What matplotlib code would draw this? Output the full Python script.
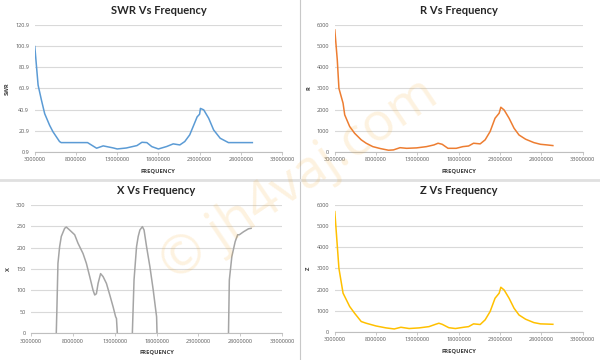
import matplotlib
matplotlib.use("Agg")
import matplotlib.pyplot as plt
from matplotlib.lines import Line2D
import numpy as np

plt.rcParams["font.family"] = ["Open Sans", "DejaVu Sans"]

# frequency sweep readings (Hz) and values
swr_freq = [3.0e6, 3.4e6, 3.8e6, 4.2e6, 4.8e6, 5.2e6, 6.0e6, 6.2e6, 7.5e6, 9.4e6,
            10.5e6, 11.3e6, 12.5e6, 13.0e6, 14.1e6, 15.4e6, 16.0e6, 16.6e6, 17.2e6,
            18.0e6, 19.0e6, 19.8e6, 20.6e6, 21.2e6, 21.8e6, 22.3e6, 22.7e6, 23.0e6,
            23.1e6, 23.5e6, 24.1e6, 24.7e6, 25.5e6, 26.5e6, 28.0e6, 29.4e6]
swr = [100.4, 64, 50, 37, 26, 20, 10.7, 9.7, 9.7, 9.7,
       4.4, 6.6, 4.7, 3.7, 4.6, 6.9, 10.0, 9.7, 5.9,
       3.7, 6.0, 8.5, 7.5, 10.7, 17, 26.4, 34, 36.5,
       42, 40.6, 32.7, 21.7, 13.8, 9.7, 9.7, 9.7]

r_freq = [3.0e6, 3.3e6, 3.5e6, 4.0e6, 4.2e6, 4.8e6, 5.4e6, 6.2e6, 6.8e6, 7.6e6,
          8.5e6, 9.5e6, 10.1e6, 10.9e6, 11.7e6, 12.9e6, 14.1e6, 15.0e6, 15.5e6,
          16.0e6, 16.7e6, 17.7e6, 18.5e6, 19.2e6, 19.8e6, 20.6e6, 21.2e6, 21.8e6,
          22.4e6, 22.9e6, 23.1e6, 23.5e6, 24.1e6, 24.7e6, 25.3e6, 26.1e6, 27.1e6,
          27.9e6, 28.7e6, 29.4e6]
r_vals = [5760, 4350, 3000, 2300, 1750, 1200, 880, 570, 410, 250,
          160, 80, 95, 200, 170, 190, 250, 330, 410,
          360, 170, 170, 250, 280, 410, 380, 570, 960,
          1590, 1830, 2110, 1980, 1590, 1120, 800, 600, 440,
          360, 330, 300]

x_freq = [6.0e6, 6.08e6, 6.2e6, 6.4e6, 6.6e6, 7.0e6, 7.2e6, 7.6e6, 8.2e6, 8.6e6,
          9.2e6, 9.6e6, 10.0e6, 10.4e6, 10.6e6, 10.8e6, 11.0e6, 11.3e6, 11.6e6,
          12.0e6, 12.4e6, 12.8e6, 13.1e6, 13.2e6, 13.3e6, 14.2e6,
          15.1e6, 15.3e6, 15.6e6, 15.8e6, 16.0e6, 16.3e6, 16.5e6, 16.8e6, 17.2e6,
          17.6e6, 17.9e6, 18.0e6, 18.05e6, 22.0e6,
          26.6e6, 26.7e6, 27.0e6, 27.4e6, 27.7e6, 27.9e6, 28.4e6, 29.0e6, 29.3e6]
x_vals = [0, 61, 163, 202, 226, 245, 248, 241, 230, 210,
          186, 163, 132, 100, 89, 92, 116, 139, 132,
          116, 89, 61, 38, 34, 0, np.nan,
          0, 124, 202, 226, 241, 249, 241, 202, 155,
          100, 53, 38, 0, np.nan,
          0, 124, 179, 214, 230, 230, 237, 244, 245]

z_freq = [3.0e6, 3.5e6, 4.0e6, 4.8e6, 5.4e6, 6.2e6, 6.8e6, 8.0e6, 9.2e6, 10.2e6,
          11.0e6, 12.0e6, 13.2e6, 14.4e6, 15.2e6, 15.6e6, 16.0e6, 16.8e6, 17.6e6,
          18.6e6, 19.2e6, 19.8e6, 20.6e6, 21.2e6, 21.8e6, 22.4e6, 22.9e6, 23.1e6,
          23.5e6, 24.1e6, 24.7e6, 25.3e6, 26.1e6, 27.1e6, 27.9e6, 28.7e6, 29.4e6]
z_vals = [5680, 3000, 1830, 1200, 880, 490, 410, 280, 190, 140,
          220, 160, 190, 250, 360, 410, 360, 200, 160,
          220, 250, 380, 350, 570, 960, 1590, 1830, 2110,
          1980, 1590, 1120, 800, 600, 440, 380, 370, 360]

freq_ticks = [3000000, 8000000, 13000000, 18000000, 23000000, 28000000, 33000000]
swr_ticks = [0.9, 20.9, 40.9, 60.9, 80.9, 100.9, 120.9]
rz_ticks = [0, 1000, 2000, 3000, 4000, 5000, 6000]
x_ticks = [0, 50, 100, 150, 200, 250, 300]

panels = [
    ("SWR Vs Frequency", "SWR", swr_freq, swr, swr_ticks, "#5b9bd5", [0.058, 0.578, 0.412, 0.353]),
    ("R Vs Frequency", "R", r_freq, r_vals, rz_ticks, "#ed7d31", [0.558, 0.578, 0.413, 0.353]),
    ("X Vs Frequency", "X", x_freq, x_vals, x_ticks, "#a5a5a5", [0.052, 0.075, 0.418, 0.356]),
    ("Z Vs Frequency", "Z", z_freq, z_vals, rz_ticks, "#ffc000", [0.558, 0.078, 0.413, 0.353]),
]

fig = plt.figure(figsize=(6, 3.6), dpi=100)

for title, ylab, fx, fy, yt, col, rect in panels:
    ax = fig.add_axes(rect)
    ax.plot(fx, fy, color=col, lw=1.1, zorder=3)
    ax.set_xlim(3000000, 33000000)
    ax.set_ylim(yt[0], yt[-1])
    ax.set_xticks(freq_ticks)
    ax.set_xticklabels([str(t) for t in freq_ticks])
    ax.set_yticks(yt)
    ax.set_yticklabels([str(t) for t in yt])
    ax.grid(axis="y", color="#d9d9d9", lw=0.8)
    ax.set_axisbelow(True)
    for s in ["top", "right", "left"]:
        ax.spines[s].set_visible(False)
    ax.spines["bottom"].set_color("#bfbfbf")
    ax.spines["bottom"].set_linewidth(0.8)
    ax.tick_params(axis="x", labelsize=4, colors="#595959", length=2, width=0.6,
                   color="#bfbfbf", pad=2)
    ax.tick_params(axis="y", labelsize=4, colors="#595959", length=0, pad=4)
    ax.set_xlabel("FREQUENCY", fontsize=4.2, fontweight="bold", color="#404040", labelpad=4)
    ax.set_ylabel(ylab, fontsize=4.2, fontweight="bold", color="#404040", labelpad=4)
    ax.set_title(title, fontsize=8, fontweight="bold", color="#262626", pad=8,
                 family=["Lato", "DejaVu Sans"])

# panel separators
fig.add_artist(Line2D([0.5, 0.5], [0, 1], transform=fig.transFigure, color="#c8c8c8", lw=0.8))
fig.add_artist(Line2D([0, 1], [0.5, 0.5], transform=fig.transFigure, color="#e0e0e0", lw=2.0))

# watermark
fig.text(0.5, 0.5, "\u00a9 jh4vaj.com", fontsize=38, color="#f5a623", alpha=0.14,
         rotation=34, ha="center", va="center", zorder=10)

fig.savefig("out.png", dpi=100)
